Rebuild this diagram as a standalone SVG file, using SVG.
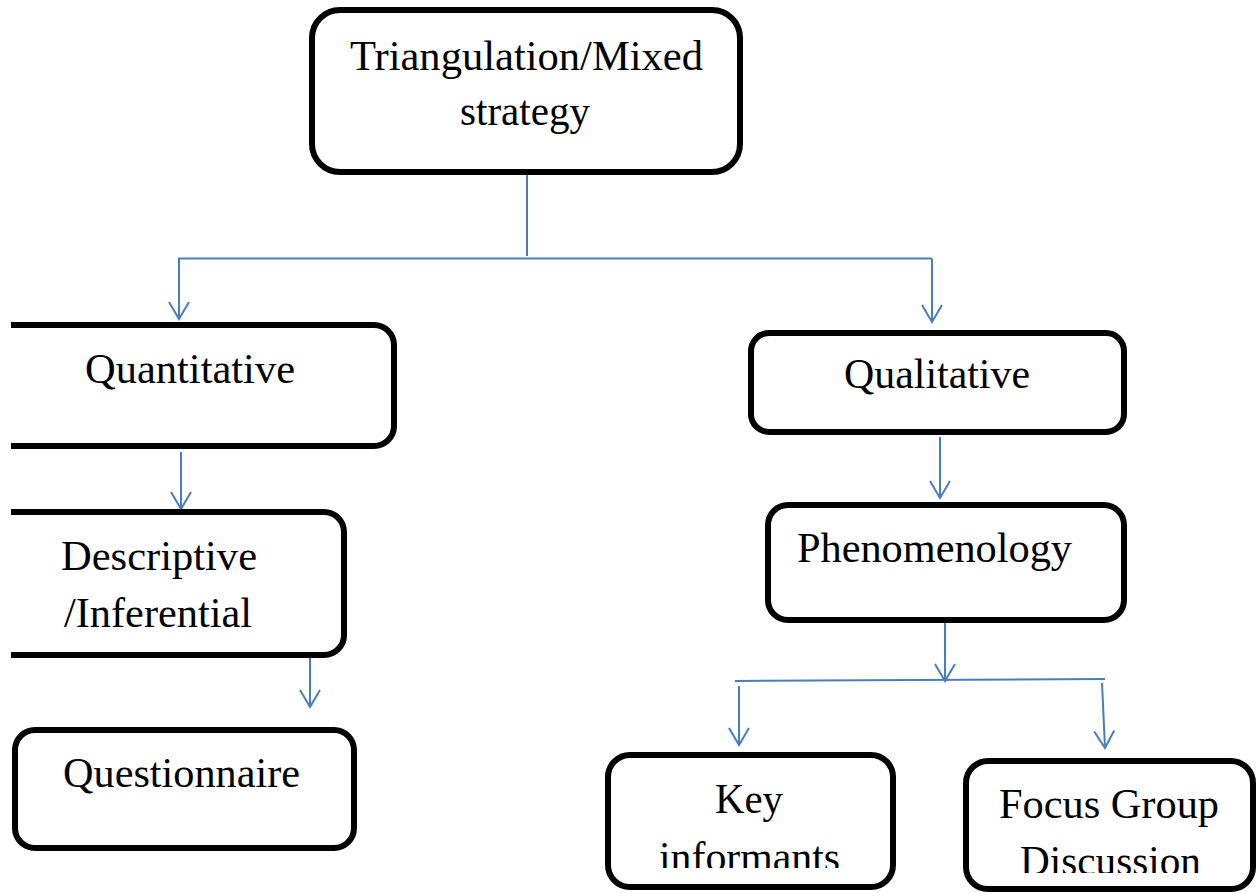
<svg xmlns="http://www.w3.org/2000/svg" width="1257" height="893" viewBox="0 0 1257 893">
  <style>
    .box { fill: #ffffff; stroke: #000000; stroke-width: 6; stroke-linejoin: round; }
    .lbl { font-family: "Liberation Serif", "Times New Roman", serif; font-size: 42px; fill: #000000; text-anchor: middle; }
    .conn { fill: none; stroke: #4a7ebb; stroke-width: 2; }
  </style>
  <defs>
    <!-- open V arrowhead used on every downward connector -->
    <marker id="head" markerUnits="userSpaceOnUse" markerWidth="30" markerHeight="30" viewBox="-20 -15 24 30" refX="0" refY="0" orient="auto">
      <path d="M-17,-10 L0,0 L-17,10" fill="none" stroke="#4a7ebb" stroke-width="2"/>
    </marker>
    <clipPath id="leftEdge">
      <rect x="11" y="0" width="1246" height="893"/>
    </clipPath>
    <clipPath id="keyClip">
      <rect x="600" y="700" width="300" height="168"/>
    </clipPath>
    <clipPath id="focusClip">
      <rect x="960" y="700" width="297" height="173"/>
    </clipPath>
  </defs>

  <!-- connectors -->
  <g id="connectors" class="conn">
    <line x1="527" y1="175" x2="527" y2="256"/>
    <line x1="178" y1="258.5" x2="932" y2="258.5"/>
    <line x1="179" y1="258.5" x2="179" y2="319" marker-end="url(#head)"/>
    <line x1="932" y1="258.5" x2="932" y2="322" marker-end="url(#head)"/>
    <line x1="181" y1="452" x2="181" y2="509" marker-end="url(#head)"/>
    <line x1="310" y1="657" x2="310" y2="707" marker-end="url(#head)"/>
    <line x1="940" y1="437" x2="940" y2="498" marker-end="url(#head)"/>
    <line x1="945" y1="623" x2="945" y2="681" marker-end="url(#head)"/>
    <line x1="735" y1="681" x2="1105" y2="679"/>
    <line x1="739" y1="686" x2="739" y2="745" marker-end="url(#head)"/>
    <line x1="1102" y1="683" x2="1105" y2="748" marker-end="url(#head)"/>
  </g>

  <!-- root -->
  <g id="node-mixed">
    <rect class="box" x="312" y="10" width="428" height="162" rx="28" ry="28"/>
    <text class="lbl" x="526.5" y="70" textLength="353" lengthAdjust="spacingAndGlyphs">Triangulation/Mixed</text>
    <text class="lbl" x="525" y="125" textLength="130" lengthAdjust="spacingAndGlyphs">strategy</text>
  </g>

  <!-- quantitative branch -->
  <g id="node-quantitative" clip-path="url(#leftEdge)">
    <path class="box" d="M0,325 H374 A20,20 0 0 1 394,345 V426 A20,20 0 0 1 374,446 H0"/>
    <text class="lbl" x="190" y="383" textLength="210" lengthAdjust="spacingAndGlyphs">Quantitative</text>
  </g>

  <g id="node-descriptive" clip-path="url(#leftEdge)">
    <path class="box" d="M0,512 H324 A20,20 0 0 1 344,532 V635 A20,20 0 0 1 324,655 H0"/>
    <text class="lbl" x="159" y="570" textLength="196" lengthAdjust="spacingAndGlyphs">Descriptive</text>
    <text class="lbl" x="158" y="627" textLength="188" lengthAdjust="spacingAndGlyphs">/Inferential</text>
  </g>

  <g id="node-questionnaire" clip-path="url(#leftEdge)">
    <rect class="box" x="15" y="730" width="339" height="118" rx="20" ry="20"/>
    <text class="lbl" x="181.5" y="787" textLength="237" lengthAdjust="spacingAndGlyphs">Questionnaire</text>
  </g>

  <!-- qualitative branch -->
  <g id="node-qualitative">
    <rect class="box" x="751" y="333" width="373" height="99" rx="18" ry="18"/>
    <text class="lbl" x="937" y="388" textLength="186" lengthAdjust="spacingAndGlyphs">Qualitative</text>
  </g>

  <g id="node-phenomenology">
    <rect class="box" x="768" y="505" width="356" height="115" rx="20" ry="20"/>
    <text class="lbl" x="934.5" y="562" textLength="275" lengthAdjust="spacingAndGlyphs">Phenomenology</text>
  </g>

  <g id="node-key-informants">
    <rect class="box" x="608" y="755" width="285" height="132" rx="22" ry="22"/>
    <g clip-path="url(#keyClip)">
      <text class="lbl" x="749" y="813" textLength="68" lengthAdjust="spacingAndGlyphs">Key</text>
      <text class="lbl" x="749.5" y="871" textLength="181" lengthAdjust="spacingAndGlyphs">informants</text>
    </g>
  </g>

  <g id="node-focus-group">
    <rect class="box" x="966" y="761" width="287" height="128" rx="22" ry="22"/>
    <g clip-path="url(#focusClip)">
      <text class="lbl" x="1109" y="818" textLength="220" lengthAdjust="spacingAndGlyphs">Focus Group</text>
      <text class="lbl" x="1110.5" y="875" textLength="181" lengthAdjust="spacingAndGlyphs">Discussion</text>
    </g>
  </g>
</svg>
